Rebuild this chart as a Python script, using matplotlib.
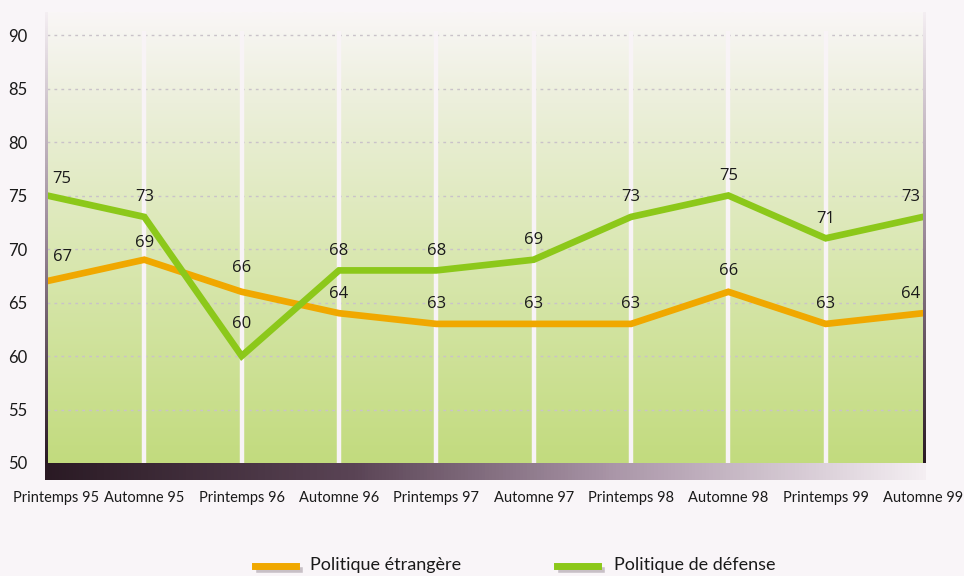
import numpy as np
import matplotlib.pyplot as plt
from matplotlib.colors import LinearSegmentedColormap

periods = ["Printemps 95", "Automne 95", "Printemps 96", "Automne 96", "Printemps 97",
           "Automne 97", "Printemps 98", "Automne 98", "Printemps 99", "Automne 99"]
etrangere = [67, 69, 66, 64, 63, 63, 63, 66, 63, 64]
defense = [75, 73, 60, 68, 68, 69, 73, 75, 71, 73]
series_names = ["Politique étrangère", "Politique de défense"]
yticks = [50, 55, 60, 65, 70, 75, 80, 85, 90]

orange = "#f0a800"
green = "#8cc81a"
tick_font = "Lato"

fig = plt.figure(figsize=(9.64, 5.76), dpi=100)
fig.patch.set_facecolor("#f9f5f8")

# main axes
ax = fig.add_axes([47 / 964, 1 - 463 / 576, 876 / 964, 451 / 576])
x = np.arange(len(periods))
ymin, ymax = 50, 92.15
ax.set_xlim(0, len(periods) - 1)
ax.set_ylim(ymin, ymax)

# vertical background gradient
bg = LinearSegmentedColormap.from_list(
    "bg", [(0, "#c2db7e"), (0.45, "#d9e7b0"), (0.8, "#ecefdb"), (1, "#f9f6f6")])
grad = np.linspace(0, 1, 256).reshape(-1, 1)
ax.imshow(grad, cmap=bg, origin="lower", aspect="auto",
          extent=[0, len(periods) - 1, ymin, ymax], zorder=0)

# grid and white verticals
for t in yticks[1:]:
    ax.axhline(t, color="#c9c2c9", lw=1, ls=(0, (2, 3)), zorder=1)
ax.vlines(x[1:-1], ymin, 90.4, color="#f8f3f6", lw=3.2, zorder=1)

ax.plot(x, etrangere, color=orange, lw=4.8, solid_joinstyle="miter", zorder=3)
ax.plot(x, defense, color=green, lw=4.8, solid_joinstyle="miter", zorder=4)

# label offsets in points (hand placement as in the original)
lift_etr = [17, 12, 17, 14, 14, 14, 14, 15, 14, 14]
lift_def = [12, 14, 23, 14, 14, 14, 14, 14, 14, 14]
for vals, lifts in ((etrangere, lift_etr), (defense, lift_def)):
    for i, v in enumerate(vals):
        ha, dx = "center", 0
        if i == 0:
            ha, dx = "left", 4
        elif i == len(vals) - 1:
            ha, dx = "right", -2
        ax.annotate(str(v), (i, v), xytext=(dx, lifts[i]), textcoords="offset points",
                    ha=ha, va="center", fontsize=12, family="Open Sans",
                    color="#1a1a1a", zorder=5)

# x labels drawn as text so the first one can sit a little to the right
ax.set_xticks(x)
ax.set_xticklabels([])
for i, p in enumerate(periods):
    ax.annotate(p, (i, 0), xycoords=("data", "axes fraction"),
                xytext=(6.5 if i == 0 else 0, -25), textcoords="offset points",
                ha="center", va="center", family=tick_font, fontsize=10.5,
                color="#1a1a1a", annotation_clip=False)

ax.set_yticks(yticks)
ax.set_yticklabels([str(t) for t in yticks], family=tick_font, fontsize=12, color="#1a1a1a")
ax.tick_params(length=0)
ax.tick_params(axis="y", pad=14)
for s in ax.spines.values():
    s.set_visible(False)

# bottom gradient bar
bar = fig.add_axes([45 / 964, 1 - 480 / 576, 881 / 964, 17 / 576])
bar_cmap = LinearSegmentedColormap.from_list(
    "bar", [(0, "#2a1a24"), (0.35, "#5a4455"), (0.65, "#ab97a9"), (1, "#f4eef2")])
bar.imshow(np.linspace(0, 1, 256).reshape(1, -1), cmap=bar_cmap, aspect="auto")
bar.axis("off")

# side edges
edge_cmap = LinearSegmentedColormap.from_list(
    "edge", [(0, "#2a1a24"), (0.5, "#9a8898"), (1, "#f4eef2")])
for left, w in ((45, 2.5), (922.5, 3)):
    e = fig.add_axes([left / 964, 1 - 463 / 576, w / 964, 451 / 576])
    e.imshow(np.linspace(0, 1, 256).reshape(-1, 1), cmap=edge_cmap,
             origin="lower", aspect="auto")
    e.axis("off")

# legend
for (x0, x1, tx), c, name in (((255, 296, 310), orange, series_names[0]),
                              ((557, 598, 614), green, series_names[1])):
    fig.add_artist(plt.Line2D([(x0 + 4) / 964, (x1 + 4) / 964],
                              [1 - 570 / 576] * 2, color="#c8c0c6", lw=4))
    fig.add_artist(plt.Line2D([x0 / 964, x1 / 964], [1 - 566 / 576] * 2, color=c, lw=5))
    fig.text(tx / 964, 1 - 565 / 576, name, family=tick_font, fontsize=13,
             color="#1a1a1a", va="center", ha="left")

fig.savefig("out.png", dpi=100, facecolor=fig.get_facecolor())
